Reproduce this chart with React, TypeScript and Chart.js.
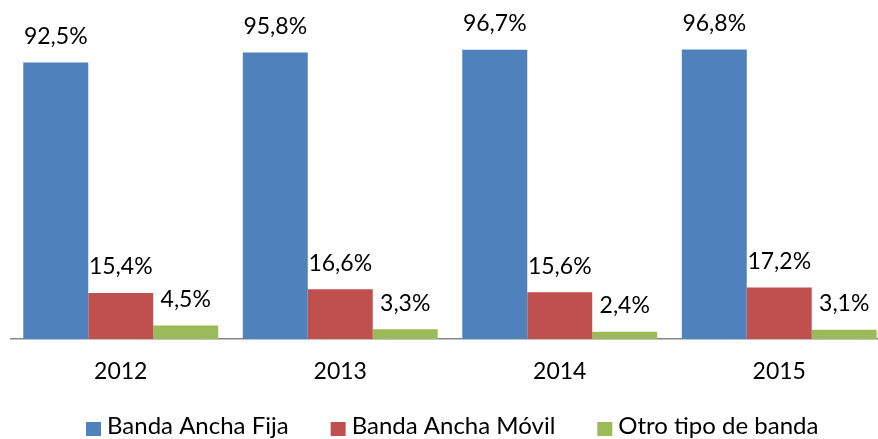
import React, { useEffect, useRef } from "react";
import { Chart, registerables } from "chart.js";
Chart.register(...registerables);

const categories = ["2012", "2013", "2014", "2015"];
const seriesNames = ["Banda Ancha Fija", "Banda Ancha Móvil", "Otro tipo de banda"];
const fija = [92.5, 95.8, 96.7, 96.8];
const movil = [15.4, 16.6, 15.6, 17.2];
const otro = [4.5, 3.3, 2.4, 3.1];
const colors = ["#4F81BD", "#C0504D", "#9BBB59"];

const FONT = "Lato, 'Open Sans', sans-serif";

const fmt = (v: number) => v.toFixed(1).replace(".", ",") + "%";

const labelPlugin = {
  id: "barLabels",
  afterDatasetsDraw(chart: any) {
    const ctx = chart.ctx;
    ctx.save();
    ctx.font = `23px ${FONT}`;
    ctx.fillStyle = "#000";
    ctx.textAlign = "center";
    ctx.textBaseline = "middle";
    chart.data.datasets.forEach((ds: any, i: number) => {
      const meta = chart.getDatasetMeta(i);
      meta.data.forEach((bar: any, j: number) => {
        ctx.fillText(fmt(ds.data[j]), bar.x, bar.y - 26);
      });
    });
    ctx.restore();
  },
};

const legendPlugin = {
  id: "customLegend",
  afterDraw(chart: any) {
    const ctx = chart.ctx;
    ctx.save();
    ctx.font = `24px ${FONT}`;
    ctx.textBaseline = "alphabetic";
    ctx.textAlign = "left";
    let x = 86;
    const baseline = 434;
    chart.data.datasets.forEach((ds: any) => {
      ctx.fillStyle = ds.backgroundColor;
      ctx.fillRect(x, 422, 15, 14);
      ctx.fillStyle = "#000";
      ctx.fillText(ds.label, x + 21, baseline);
      x += 21 + ctx.measureText(ds.label).width + 42;
    });
    ctx.restore();
  },
};

export default function App() {
  const ref = useRef<HTMLCanvasElement>(null);
  useEffect(() => {
    const chart = new Chart(ref.current!, {
      type: "bar",
      data: {
        labels: categories,
        datasets: [fija, movil, otro].map((d, i) => ({
          label: seriesNames[i],
          data: d,
          backgroundColor: colors[i],
          borderWidth: 0,
          barPercentage: 1,
          categoryPercentage: 0.888,
        })),
      },
      options: {
        animation: false,
        responsive: false,
        layout: { padding: { top: 40, left: 11, right: 0, bottom: 40 } },
        plugins: { legend: { display: false }, tooltip: { enabled: false } },
        scales: {
          y: { display: false, min: 0, max: 100 },
          x: {
            grid: { display: false },
            border: { display: true, color: "#868686", width: 1.5 },
            ticks: { font: { family: FONT, size: 23 }, color: "#000", padding: 11 },
            afterFit: (s: any) => {
              s.height = 60;
            },
          },
        },
      },
      plugins: [labelPlugin, legendPlugin],
    });
    return () => chart.destroy();
  }, []);
  return (
    <div style={{ position: "fixed", left: 0, top: 0, width: 878, height: 439, background: "#fff", overflow: "hidden" }}>
      <canvas ref={ref} width={889} height={439} />
    </div>
  );
}
